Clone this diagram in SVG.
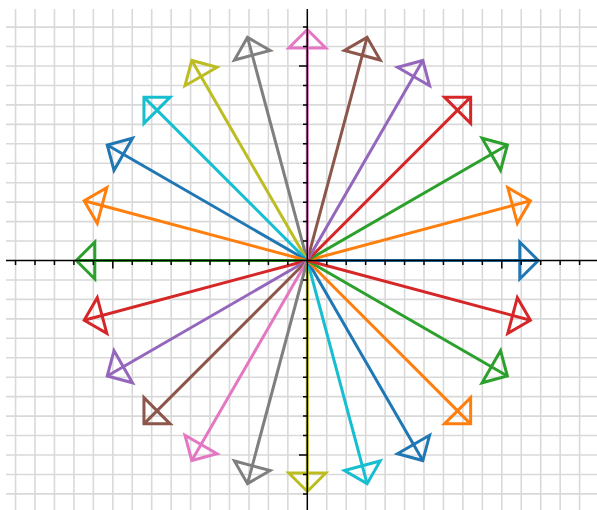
<svg xmlns="http://www.w3.org/2000/svg" width="597" height="510" viewBox="0 0 597 510">
<style>
.grid{fill:none;stroke:#d9d9d9;stroke-width:1.6}
.axis{fill:none;stroke:#000;stroke-width:1.5}
.arrow{fill:none;stroke-width:3;stroke-linejoin:miter}
.c0{stroke:#1f77b4}.c1{stroke:#ff7f0e}.c2{stroke:#2ca02c}.c3{stroke:#d62728}.c4{stroke:#9467bd}
.c5{stroke:#8c564b}.c6{stroke:#e377c2}.c7{stroke:#7f7f7f}.c8{stroke:#bcbd22}.c9{stroke:#17becf}
</style>
<defs>
<g id="shape">
<line x1="0" y1="0" x2="231" y2="0"/>
<polygon points="231,0 212.5,-18.5 212.5,18.5"/>
</g>
</defs>
<rect width="597" height="510" fill="#fff"/>
<g id="grid">
<path class="grid" d="M15.55 9V510M35 9V510M54.45 9V510M73.9 9V510M93.35 9V510M112.8 9V510M132.25 9V510M151.7 9V510M171.15 9V510M190.6 9V510M210.05 9V510M229.5 9V510M248.95 9V510M268.4 9V510M287.85 9V510M326.75 9V510M346.2 9V510M365.65 9V510M385.1 9V510M404.55 9V510M424 9V510M443.45 9V510M462.9 9V510M482.35 9V510M501.8 9V510M521.25 9V510M540.7 9V510M560.15 9V510M579.6 9V510
M6 27.1H597M6 46.55H597M6 66H597M6 85.45H597M6 104.9H597M6 124.35H597M6 143.8H597M6 163.25H597M6 182.7H597M6 202.15H597M6 221.6H597M6 241.05H597M6 279.95H597M6 299.4H597M6 318.85H597M6 338.3H597M6 357.75H597M6 377.2H597M6 396.65H597M6 416.1H597M6 435.55H597M6 455H597M6 474.45H597M6 493.9H597"/>
</g>
<g id="connectors">
<g id="a0" class="arrow c0" transform="translate(307.3 260.5) rotate(0)"><use href="#shape"/></g>
<g id="a15" class="arrow c1" transform="translate(307.3 260.5) rotate(-15)"><use href="#shape"/></g>
<g id="a30" class="arrow c2" transform="translate(307.3 260.5) rotate(-30)"><use href="#shape"/></g>
<g id="a45" class="arrow c3" transform="translate(307.3 260.5) rotate(-45)"><use href="#shape"/></g>
<g id="a60" class="arrow c4" transform="translate(307.3 260.5) rotate(-60)"><use href="#shape"/></g>
<g id="a75" class="arrow c5" transform="translate(307.3 260.5) rotate(-75)"><use href="#shape"/></g>
<g id="a90" class="arrow c6" transform="translate(307.3 260.5) rotate(-90)"><use href="#shape"/></g>
<g id="a105" class="arrow c7" transform="translate(307.3 260.5) rotate(-105)"><use href="#shape"/></g>
<g id="a120" class="arrow c8" transform="translate(307.3 260.5) rotate(-120)"><use href="#shape"/></g>
<g id="a135" class="arrow c9" transform="translate(307.3 260.5) rotate(-135)"><use href="#shape"/></g>
<g id="a150" class="arrow c0" transform="translate(307.3 260.5) rotate(-150)"><use href="#shape"/></g>
<g id="a165" class="arrow c1" transform="translate(307.3 260.5) rotate(-165)"><use href="#shape"/></g>
<g id="a180" class="arrow c2" transform="translate(307.3 260.5) rotate(-180)"><use href="#shape"/></g>
<g id="a195" class="arrow c3" transform="translate(307.3 260.5) rotate(-195)"><use href="#shape"/></g>
<g id="a210" class="arrow c4" transform="translate(307.3 260.5) rotate(-210)"><use href="#shape"/></g>
<g id="a225" class="arrow c5" transform="translate(307.3 260.5) rotate(-225)"><use href="#shape"/></g>
<g id="a240" class="arrow c6" transform="translate(307.3 260.5) rotate(-240)"><use href="#shape"/></g>
<g id="a255" class="arrow c7" transform="translate(307.3 260.5) rotate(-255)"><use href="#shape"/></g>
<g id="a270" class="arrow c8" transform="translate(307.3 260.5) rotate(-270)"><use href="#shape"/></g>
<g id="a285" class="arrow c9" transform="translate(307.3 260.5) rotate(-285)"><use href="#shape"/></g>
<g id="a300" class="arrow c0" transform="translate(307.3 260.5) rotate(-300)"><use href="#shape"/></g>
<g id="a315" class="arrow c1" transform="translate(307.3 260.5) rotate(-315)"><use href="#shape"/></g>
<g id="a330" class="arrow c2" transform="translate(307.3 260.5) rotate(-330)"><use href="#shape"/></g>
<g id="a345" class="arrow c3" transform="translate(307.3 260.5) rotate(-345)"><use href="#shape"/></g>
</g>
<g id="axes">
<path class="axis" d="M6 260.5H597M307.3 9V510"/>
<path class="axis" d="M15.55 260.5V265M35 260.5V265M54.45 260.5V265M73.9 260.5V265M93.35 260.5V265M112.8 260.5V268.5M132.25 260.5V265M151.7 260.5V265M171.15 260.5V265M190.6 260.5V265M210.05 260.5V265M229.5 260.5V265M248.95 260.5V265M268.4 260.5V265M287.85 260.5V265M326.75 260.5V265M346.2 260.5V265M365.65 260.5V265M385.1 260.5V265M404.55 260.5V265M424 260.5V265M443.45 260.5V265M462.9 260.5V265M482.35 260.5V265M501.8 260.5V268.5M521.25 260.5V265M540.7 260.5V265M560.15 260.5V265M579.6 260.5V265
M307.3 27.1H303M307.3 46.55H303M307.3 66H299M307.3 85.45H303M307.3 104.9H303M307.3 124.35H303M307.3 143.8H303M307.3 163.25H303M307.3 182.7H303M307.3 202.15H303M307.3 221.6H303M307.3 241.05H303M307.3 279.95H303M307.3 299.4H303M307.3 318.85H303M307.3 338.3H303M307.3 357.75H303M307.3 377.2H303M307.3 396.65H303M307.3 416.1H303M307.3 435.55H303M307.3 455H299M307.3 474.45H303M307.3 493.9H303"/>
</g>
</svg>
